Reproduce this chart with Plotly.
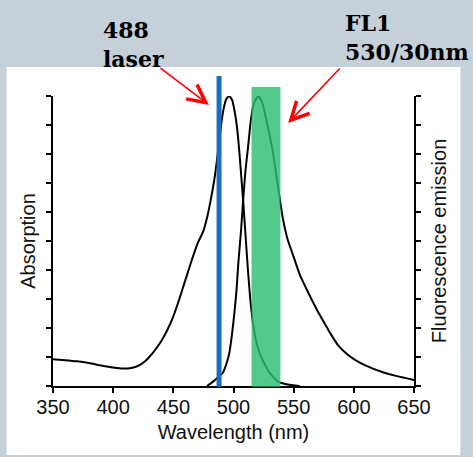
import plotly.graph_objects as go

# Absorption spectrum (left axis, normalised)
abs_wl = [350, 360, 370, 380, 390, 400, 408, 415, 420, 425, 430, 435, 440, 445,
          450, 455, 460, 465, 470, 475, 478, 481, 484, 486, 488, 490, 492, 494,
          496.5, 499, 501, 503, 505, 506.5, 508, 510, 512, 514.5, 518, 522,
          526, 530, 537, 545, 555]
abs_val = [0.092, 0.089, 0.085, 0.079, 0.071, 0.064, 0.060, 0.062, 0.068, 0.080,
           0.100, 0.125, 0.155, 0.193, 0.240, 0.300, 0.365, 0.430, 0.490, 0.535,
           0.580, 0.640, 0.710, 0.770, 0.840, 0.910, 0.960, 0.990,
           1.000, 0.985, 0.945, 0.890, 0.800, 0.720, 0.640, 0.520, 0.400, 0.275,
           0.170, 0.110, 0.075, 0.045, 0.015, 0.005, 0.0]

# Fluorescence emission spectrum (right axis, normalised)
em_wl = [478, 483, 487, 491, 494, 496.5, 498.5, 500.7, 502.5, 504, 506.3, 508,
         510, 512, 514.6, 517, 520.7, 524, 527, 532.6, 536.8, 541, 545, 550,
         555, 560, 565, 570, 576, 581, 587, 594, 601, 610, 623, 635, 650]
em_val = [0.0, 0.015, 0.030, 0.045, 0.075, 0.113, 0.170, 0.250, 0.330, 0.423,
          0.538, 0.640, 0.745, 0.820, 0.923, 0.975, 1.000, 0.975, 0.923, 0.810,
          0.693, 0.578, 0.505, 0.445, 0.385, 0.340, 0.298, 0.258, 0.214, 0.178,
          0.140, 0.111, 0.090, 0.070, 0.049, 0.035, 0.021]

x_ticks = [350, 400, 450, 500, 550, 600, 650]
y_ticks = [i / 10 for i in range(11)]

laser_nm = 488
filter_lo, filter_hi = 515, 539

fig = go.Figure()
fig.add_trace(go.Scatter(x=abs_wl, y=abs_val, mode="lines",
                         line=dict(color="black", width=2, shape="spline", smoothing=0.5),
                         hoverinfo="skip", showlegend=False))
fig.add_trace(go.Scatter(x=em_wl, y=em_val, mode="lines", yaxis="y2",
                         line=dict(color="black", width=2, shape="spline", smoothing=0.5),
                         hoverinfo="skip", showlegend=False))

# white panel behind the chart
fig.add_shape(type="rect", xref="paper", yref="paper",
              x0=-0.1285, x1=1.1285, y0=-0.238, y1=1.1,
              fillcolor="white", line_width=0, layer="below")
# FL1 band-pass filter window
fig.add_shape(type="rect", xref="x", yref="paper",
              x0=filter_lo, x1=filter_hi, y0=-0.003, y1=1.031,
              fillcolor="rgb(45,190,112)", opacity=0.82, line_width=0, layer="above")
# excitation laser line
fig.add_shape(type="line", xref="x", yref="paper",
              x0=laser_nm, x1=laser_nm, y0=-0.003, y1=1.069,
              line=dict(color="#1570be", width=5), layer="above")

serif = dict(family="DejaVu Serif", size=22, color="black", weight="bold")
fig.add_annotation(text="488<br>laser", xref="paper", yref="paper",
                   x=0.134, y=1.076, xanchor="left", yanchor="bottom",
                   showarrow=False, align="left", font=serif)
fig.add_annotation(text="FL1<br>530/30nm", xref="paper", yref="paper",
                   x=0.803, y=1.099, xanchor="left", yanchor="bottom",
                   showarrow=False, align="left", font=serif)

arrow = dict(showarrow=True, arrowhead=5, arrowsize=2.2, arrowwidth=1.6,
             arrowcolor="red", text="", axref="pixel", ayref="pixel")
fig.add_annotation(x=479.6, y=0.969, ax=-50, ay=-38, **arrow)
fig.add_annotation(x=545.4, y=0.907, ax=53, ay=-56, **arrow)

axis_common = dict(showline=True, linecolor="black", linewidth=1.6,
                   ticks="outside", ticklen=5, tickwidth=1.5, tickcolor="black",
                   showgrid=False, zeroline=False)
sans = dict(family="Liberation Sans, Arial, sans-serif", size=20, color="#111")

fig.update_layout(
    width=473, height=457,
    margin=dict(l=52.5, r=58.5, t=96, b=71),
    paper_bgcolor="#c5d0d8", plot_bgcolor="white",
    font=sans,
    xaxis=dict(range=[350, 650], tickvals=x_ticks, ticktext=[str(v) for v in x_ticks],
               title=dict(text="Wavelength (nm)", standoff=8, font=sans),
               tickfont=sans, ticklabelstandoff=-3, **axis_common),
    yaxis=dict(range=[0, 1], tickvals=y_ticks, showticklabels=False,
               title=dict(text="Absorption", standoff=5, font=sans), **axis_common),
    yaxis2=dict(range=[0, 1], tickvals=y_ticks, showticklabels=False,
                overlaying="y", side="right",
                title=dict(text="Fluorescence emission", standoff=12, font=sans),
                **axis_common),
)

fig.write_html("out.html")
